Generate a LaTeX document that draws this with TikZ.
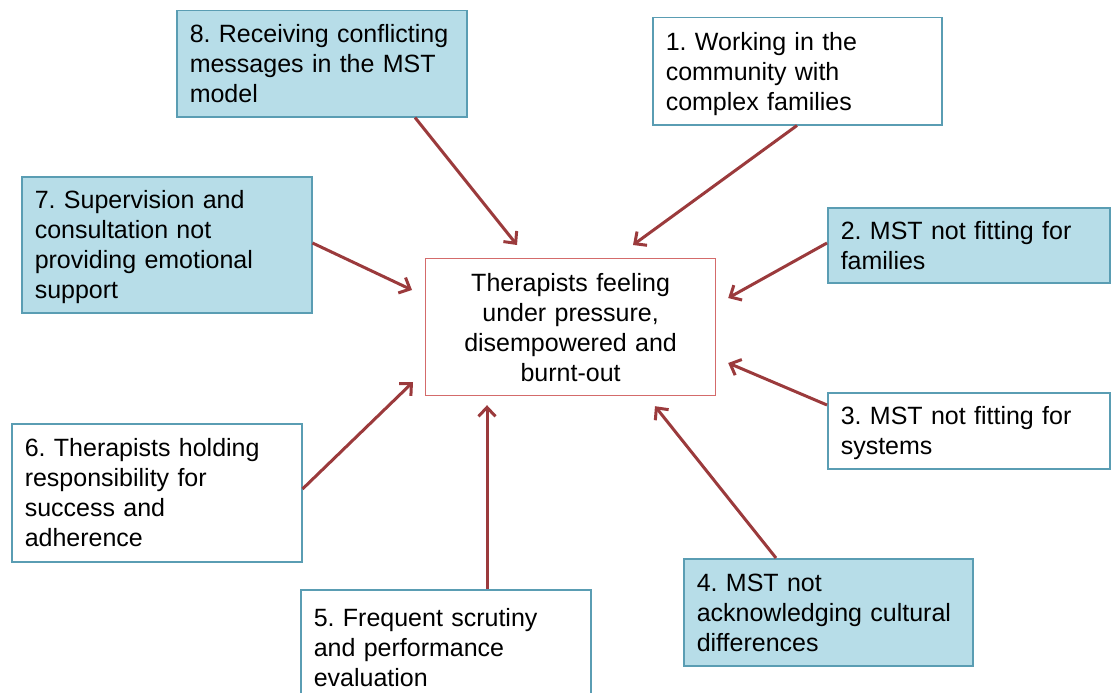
\documentclass[tikz,border=0pt]{standalone}
\usepackage{fontspec}
\setmainfont{Liberation Sans}
\usetikzlibrary{arrows.meta,calc}

\definecolor{cellblue}{HTML}{B7DDE8}
\definecolor{celledge}{HTML}{5A9DB3}
\definecolor{coreedge}{HTML}{D46B6B}
\definecolor{arrowred}{HTML}{9B3A3C}

% struts that fix the first and last line boxes (text sits a little low in each box)
\newcommand{\topstrut}{\rule{0pt}{24pt}}
\newcommand{\botstrut}{\rule[-6pt]{0pt}{6pt}}

\tikzset{
  factor/.style={draw=celledge, line width=1.5pt, anchor=north west, align=left,
    inner xsep=13pt, inner ysep=0pt, font=\fontsize{25}{30}\selectfont\frenchspacing},
  shaded/.style={factor, fill=cellblue},
  plain/.style={factor, fill=white},
  core/.style={draw=coreedge, line width=1.2pt, fill=white, align=center,
    anchor=north west, inner xsep=10pt, inner ysep=0pt,
    font=\fontsize{25}{30}\selectfont\frenchspacing},
  link/.style={draw=arrowred, line width=3pt, -{Straight Barb[length=9pt,width=17pt]}},
}

\begin{document}
\begin{tikzpicture}[x=1pt, y=-1pt]
  \useasboundingbox (0,0) rectangle (1112,693);
  \clip (0,0) rectangle (1112,693);

  % central outcome
  \node[core, text width=270pt, minimum width=290pt, minimum height=137pt] (c) at (425,258)
    {\topstrut Therapists feeling\\under pressure,\\disempowered and\\burnt-out\botstrut};

  % contributing factors
  \node[shaded, text width=264pt, minimum height=106pt] (b8) at (176,10)
    {\topstrut 8. Receiving conflicting\\messages in the MST\\model\botstrut};
  \node[plain, text width=263pt, minimum height=107pt] (b1) at (652,17)
    {\topstrut 1. Working in the\\community with\\complex families\botstrut};
  \node[shaded, text width=264pt, minimum height=136pt] (b7) at (21,176)
    {\topstrut 7. Supervision and\\consultation not\\providing emotional\\support\botstrut};
  \node[shaded, text width=256pt, minimum height=75pt] (b2) at (827,207)
    {\topstrut 2. MST not fitting for\\families\botstrut};
  \node[plain, text width=256pt, minimum height=76pt] (b3) at (827,392)
    {\topstrut 3. MST not fitting for\\systems\botstrut};
  \node[plain, text width=264pt, minimum height=138pt] (b6) at (11,423)
    {\topstrut 6. Therapists holding\\responsibility for\\success and\\adherence\botstrut};
  \node[plain, text width=264pt, minimum height=116pt] (b5) at (300,589)
    {\topstrut 5. Frequent scrutiny\\and performance\\evaluation\botstrut};
  \node[shaded, text width=263pt, minimum height=107pt] (b4) at (683,558)
    {\topstrut 4. MST not\\acknowledging cultural\\differences\botstrut};

  % connectors into the central box
  \draw[link] ($(b8.south west)+(239,0)$) -- ($(c.north west)+(92,-13)$);
  \draw[link] ($(b1.south west)+(145,0)$) -- ($(c.north west)+(208,-13)$);
  \draw[link] ($(b7.north east)+(0,67)$) -- ($(c.north west)+(-13,32)$);
  \draw[link] ($(b2.north west)+(0,36)$) -- ($(c.north east)+(12,40)$);
  \draw[link] ($(b3.north west)+(0,13)$) -- ($(c.north east)+(12,105)$);
  \draw[link] ($(b6.north east)+(0,66)$) -- ($(c.north west)+(-12,124)$);
  \draw[link] ($(b5.north west)+(187,0)$) -- ($(c.south west)+(62,9)$);
  \draw[link] ($(b4.north west)+(93,0)$) -- ($(c.south west)+(230,10)$);
\end{tikzpicture}
\end{document}
